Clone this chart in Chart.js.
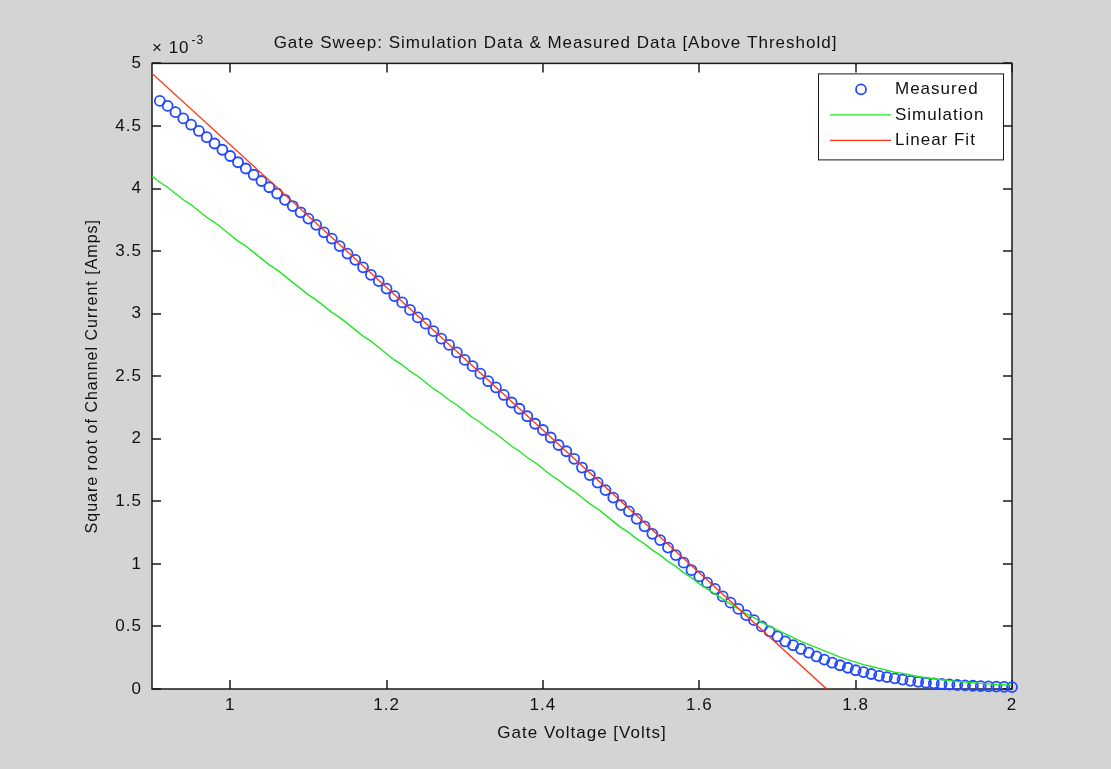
<!DOCTYPE html>
<html>
<head>
<meta charset="utf-8">
<title>Gate Sweep</title>
<script src="https://cdn.jsdelivr.net/npm/chart.js@4.4.1/dist/chart.umd.min.js"></script>
<style>
  html, body { margin: 0; padding: 0; background: #d4d4d4; }
  canvas { display: block; }
</style>
</head>
<body>
<canvas id="gate-sweep" width="1111" height="769"></canvas>
<script>
/* global Chart */

// gate voltage [V] for the measured sweep
const measuredV = [
  0.91, 0.92, 0.93, 0.94, 0.95, 0.96, 0.97, 0.98, 0.99, 1.00,
  1.01, 1.02, 1.03, 1.04, 1.05, 1.06, 1.07, 1.08, 1.09, 1.10,
  1.11, 1.12, 1.13, 1.14, 1.15, 1.16, 1.17, 1.18, 1.19, 1.20,
  1.21, 1.22, 1.23, 1.24, 1.25, 1.26, 1.27, 1.28, 1.29, 1.30,
  1.31, 1.32, 1.33, 1.34, 1.35, 1.36, 1.37, 1.38, 1.39, 1.40,
  1.41, 1.42, 1.43, 1.44, 1.45, 1.46, 1.47, 1.48, 1.49, 1.50,
  1.51, 1.52, 1.53, 1.54, 1.55, 1.56, 1.57, 1.58, 1.59, 1.60,
  1.61, 1.62, 1.63, 1.64, 1.65, 1.66, 1.67, 1.68, 1.69, 1.70,
  1.71, 1.72, 1.73, 1.74, 1.75, 1.76, 1.77, 1.78, 1.79, 1.80,
  1.81, 1.82, 1.83, 1.84, 1.85, 1.86, 1.87, 1.88, 1.89, 1.90,
  1.91, 1.92, 1.93, 1.94, 1.95, 1.96, 1.97, 1.98, 1.99, 2.00
];
// sqrt(Id), x 1e-3
const measuredI = [
  4.70, 4.66, 4.61, 4.56, 4.51, 4.46, 4.41, 4.36, 4.31, 4.26,
  4.21, 4.16, 4.11, 4.06, 4.01, 3.96, 3.91, 3.86, 3.81, 3.76,
  3.71, 3.65, 3.60, 3.54, 3.48, 3.43, 3.37, 3.31, 3.26, 3.20,
  3.14, 3.09, 3.03, 2.97, 2.92, 2.86, 2.80, 2.75, 2.69, 2.63,
  2.58, 2.52, 2.46, 2.41, 2.35, 2.29, 2.24, 2.18, 2.12, 2.07,
  2.01, 1.95, 1.90, 1.84, 1.77, 1.71, 1.65, 1.59, 1.53, 1.47,
  1.42, 1.36, 1.30, 1.24, 1.19, 1.13, 1.07, 1.01, 0.95, 0.90,
  0.85, 0.80, 0.74, 0.69, 0.64, 0.59, 0.55, 0.50, 0.46, 0.42,
  0.38, 0.35, 0.32, 0.29, 0.26, 0.235, 0.21, 0.19, 0.17, 0.15,
  0.135, 0.12, 0.105, 0.095, 0.085, 0.075, 0.065, 0.057, 0.05, 0.045,
  0.04, 0.036, 0.032, 0.029, 0.026, 0.023, 0.021, 0.019, 0.017, 0.015
];

const simV = [
  0.90, 0.91, 0.92, 0.93, 0.94, 0.95, 0.96, 0.97, 0.98, 0.99, 1.00,
  1.01, 1.02, 1.03, 1.04, 1.05, 1.06, 1.07, 1.08, 1.09, 1.10,
  1.11, 1.12, 1.13, 1.14, 1.15, 1.16, 1.17, 1.18, 1.19, 1.20,
  1.21, 1.22, 1.23, 1.24, 1.25, 1.26, 1.27, 1.28, 1.29, 1.30,
  1.31, 1.32, 1.33, 1.34, 1.35, 1.36, 1.37, 1.38, 1.39, 1.40,
  1.41, 1.42, 1.43, 1.44, 1.45, 1.46, 1.47, 1.48, 1.49, 1.50,
  1.51, 1.52, 1.53, 1.54, 1.55, 1.56, 1.57, 1.58, 1.59, 1.60,
  1.61, 1.62, 1.63, 1.64, 1.65, 1.66, 1.67, 1.68, 1.69, 1.70,
  1.71, 1.72, 1.73, 1.74, 1.75, 1.76, 1.77, 1.78, 1.79, 1.80,
  1.81, 1.82, 1.83, 1.84, 1.85, 1.86, 1.87, 1.88, 1.89, 1.90,
  1.91, 1.92, 1.93, 1.94, 1.95, 1.96, 1.97, 1.98, 1.99, 2.00
];
const simI = [
  4.10, 4.05, 4.01, 3.96, 3.91, 3.87, 3.82, 3.77, 3.73, 3.68, 3.63,
  3.58, 3.54, 3.49, 3.44, 3.39, 3.35, 3.30, 3.25, 3.20, 3.15,
  3.11, 3.06, 3.01, 2.97, 2.92, 2.87, 2.82, 2.78, 2.73, 2.68,
  2.63, 2.59, 2.54, 2.50, 2.45, 2.40, 2.36, 2.31, 2.27, 2.22,
  2.17, 2.13, 2.08, 2.04, 1.99, 1.94, 1.90, 1.85, 1.81, 1.76,
  1.71, 1.67, 1.62, 1.58, 1.53, 1.48, 1.44, 1.39, 1.34, 1.29,
  1.25, 1.20, 1.16, 1.11, 1.07, 1.02, 0.98, 0.93, 0.89, 0.84,
  0.80, 0.76, 0.72, 0.68, 0.64, 0.60, 0.57, 0.53, 0.50, 0.47,
  0.44, 0.41, 0.38, 0.355, 0.33, 0.305, 0.28, 0.255, 0.235, 0.215,
  0.195, 0.18, 0.165, 0.15, 0.135, 0.125, 0.112, 0.10, 0.09, 0.082,
  0.074, 0.067, 0.06, 0.055, 0.05, 0.045, 0.041, 0.037, 0.034, 0.031
];

// linear fit end points
const fitV = [0.9, 1.763];
const fitI = [4.92, 0];

const xTicks = [1, 1.2, 1.4, 1.6, 1.8, 2];
const yTicks = [0, 0.5, 1, 1.5, 2, 2.5, 3, 3.5, 4, 4.5, 5];
const yExponent = '-3';

const FONT = "'Liberation Sans', Arial, Helvetica, sans-serif";
const INK = '#111';

const toPoints = (xs, ys) => xs.map((x, i) => ({ x: x, y: ys[i] }));

// MATLAB-ish axes: grey figure, white box, inward ticks on all four sides, legend box
const matlabAxes = {
  id: 'matlabAxes',
  beforeUpdate(chart) {
    chart.ctx.letterSpacing = '1px';
  },
  beforeDraw(chart) {
    const { ctx, chartArea: a } = chart;
    ctx.letterSpacing = '1px';
    ctx.save();
    ctx.fillStyle = '#d4d4d4';
    ctx.fillRect(0, 0, chart.width, chart.height);
    ctx.fillStyle = '#fff';
    ctx.fillRect(a.left, a.top, a.right - a.left, a.bottom - a.top);
    ctx.restore();
  },
  beforeDatasetsDraw(chart) {
    const { ctx, chartArea: a, scales } = chart;
    const len = 9;
    ctx.save();
    ctx.strokeStyle = '#1a1a1a';
    ctx.lineWidth = 1.5;
    ctx.strokeRect(a.left, a.top, a.right - a.left, a.bottom - a.top);
    ctx.beginPath();
    xTicks.forEach(v => {
      const px = Math.round(scales.x.getPixelForValue(v));
      ctx.moveTo(px, a.bottom); ctx.lineTo(px, a.bottom - len);
      ctx.moveTo(px, a.top); ctx.lineTo(px, a.top + len);
    });
    yTicks.forEach(v => {
      const py = Math.round(scales.y.getPixelForValue(v));
      ctx.moveTo(a.left, py); ctx.lineTo(a.left + len, py);
      ctx.moveTo(a.right, py); ctx.lineTo(a.right - len, py);
    });
    ctx.stroke();

    // x 10^-3 above the y axis
    ctx.fillStyle = INK;
    ctx.textAlign = 'left';
    ctx.textBaseline = 'middle';
    ctx.font = '17px ' + FONT;
    const base = '\u00d7 10';
    ctx.fillText(base, a.left, a.top - 15);
    const w = ctx.measureText(base).width;
    ctx.font = '12px ' + FONT;
    ctx.fillText(yExponent, a.left + w + 2, a.top - 23);
    ctx.restore();
  },
  afterDatasetsDraw(chart) {
    const { ctx, chartArea: a } = chart;
    const boxW = 185, boxH = 86;
    const left = a.right - 9 - boxW;
    const top = a.top + 10;
    ctx.save();
    ctx.fillStyle = '#fff';
    ctx.fillRect(left, top, boxW, boxH);
    ctx.strokeStyle = '#1a1a1a';
    ctx.lineWidth = 1;
    ctx.strokeRect(left + 0.5, top + 0.5, boxW, boxH);
    ctx.font = '17px ' + FONT;
    ctx.textAlign = 'left';
    ctx.textBaseline = 'middle';
    chart.data.datasets.forEach((ds, i) => {
      const cy = top + 16 + i * 25.5;
      if (ds.showLine === false) {
        ctx.beginPath();
        ctx.arc(left + 43, cy, ds.pointRadius, 0, Math.PI * 2);
        ctx.strokeStyle = ds.borderColor;
        ctx.lineWidth = ds.pointBorderWidth;
        ctx.stroke();
      } else {
        ctx.beginPath();
        ctx.moveTo(left + 12, cy);
        ctx.lineTo(left + 73, cy);
        ctx.strokeStyle = ds.borderColor;
        ctx.lineWidth = ds.borderWidth;
        ctx.stroke();
      }
      ctx.fillStyle = INK;
      ctx.fillText(ds.label, left + 77, cy);
    });
    ctx.restore();
  }
};

const gateSweep = new Chart('gate-sweep', {
  type: 'scatter',
  data: {
    datasets: [
      {
        label: 'Measured',
        data: toPoints(measuredV, measuredI),
        showLine: false,
        pointStyle: 'circle',
        pointRadius: 5,
        pointBorderWidth: 1.8,
        borderColor: '#2349ff',
        backgroundColor: 'rgba(0,0,0,0)',
        clip: false,
        order: 3
      },
      {
        label: 'Simulation',
        data: toPoints(simV, simI),
        showLine: true,
        borderColor: '#22e622',
        borderWidth: 1.4,
        pointRadius: 0,
        fill: false,
        order: 2
      },
      {
        label: 'Linear Fit',
        data: toPoints(fitV, fitI),
        showLine: true,
        borderColor: '#ff3311',
        borderWidth: 1.4,
        pointRadius: 0,
        fill: false,
        order: 1
      }
    ]
  },
  options: {
    responsive: false,
    animation: false,
    events: [],
    layout: { padding: 0 },
    plugins: {
      legend: { display: false },
      tooltip: { enabled: false },
      title: {
        display: true,
        text: 'Gate Sweep: Simulation Data & Measured Data [Above Threshold]',
        color: INK,
        font: { size: 17, family: FONT, weight: 'normal', lineHeight: 1.2 },
        padding: { top: 33, bottom: 10 }
      }
    },
    scales: {
      x: {
        type: 'linear',
        min: 0.9,
        max: 2,
        afterBuildTicks: s => { s.ticks = xTicks.map(v => ({ value: v })); },
        afterFit: s => { s.height = 80; },
        grid: { display: false, drawTicks: false },
        border: { display: false },
        ticks: {
          padding: 6,
          color: INK,
          autoSkip: false,
          maxRotation: 0,
          font: { size: 17, family: FONT },
          callback: v => String(v)
        },
        title: {
          display: true,
          text: 'Gate Voltage [Volts]',
          color: INK,
          font: { size: 17, family: FONT, lineHeight: 1.2 },
          padding: { top: 0, bottom: 25 }
        }
      },
      y: {
        type: 'linear',
        min: 0,
        max: 5,
        afterBuildTicks: s => { s.ticks = yTicks.map(v => ({ value: v })); },
        afterFit: s => { s.width = 152; },
        grid: { display: false, drawTicks: false },
        border: { display: false },
        ticks: {
          padding: 10,
          color: INK,
          font: { size: 17, family: FONT },
          callback: v => String(v)
        },
        title: {
          display: true,
          text: 'Square root of Channel Current [Amps]',
          color: INK,
          font: { size: 16, family: FONT, lineHeight: 1.2 },
          padding: { top: 83, bottom: 0 }
        }
      },
      y2: {
        type: 'linear',
        position: 'right',
        afterFit: s => { s.width = 99; },
        grid: { display: false, drawTicks: false },
        border: { display: false },
        ticks: { display: false }
      }
    }
  },
  plugins: [matlabAxes]
});
</script>
</body>
</html>
